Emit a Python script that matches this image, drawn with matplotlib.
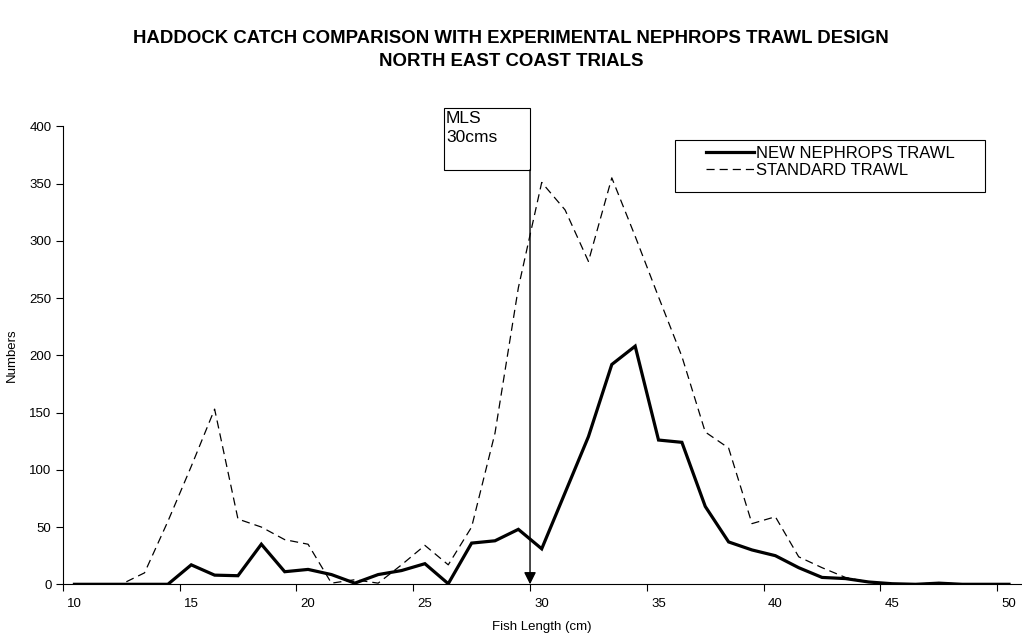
import matplotlib.pyplot as plt
from matplotlib.patches import Rectangle
from matplotlib.lines import Line2D

plt.rcParams['font.family'] = ['Liberation Sans', 'DejaVu Sans']

# fish length classes (cm)
lengths = list(range(10, 51))

# catch numbers per length class
new_trawl = [0, 0, 0, 0, 0, 17, 8, 7.5, 35, 11,
             13, 8.5, 1, 8.5, 12, 18, 0.5, 36, 38, 48,
             31, 80, 129, 192, 208, 126, 124, 68, 37, 30,
             25, 14.5, 6, 5, 2, 0.5, 0, 1, 0, 0, 0]
standard_trawl = [0, 0, 0, 10, 55, 103, 153, 57, 50, 39,
                  35, 1, 4, 1, 17, 34, 17, 50, 132, 259,
                  351, 327, 282, 355, 304, 251, 199, 133, 119, 53,
                  59, 24, 14.5, 6, 2, 0.5, 0, 1.5, 0, 0, 0]

xtick_labels = [10, 15, 20, 25, 30, 35, 40, 45, 50]
mls = 29.5  # minimum landing size marker (between 29 and 30 cm classes)

fig = plt.figure(figsize=(10.22, 6.39), dpi=100)
ax = fig.add_axes([0.0614, 0.0856, 0.9373, 0.7167])

ax.plot(lengths, new_trawl, color='black', lw=2.3, solid_joinstyle='miter')
ax.plot(lengths, standard_trawl, color='black', lw=0.9, dashes=(6.5, 4))

ax.set_xlim(9.5, 50.5)
ax.set_ylim(0, 400)
ax.set_yticks(range(0, 401, 50))

# category-style axis: tick marks between classes, labels on classes
ax.set_xticks([v - 0.5 for v in xtick_labels])
ax.set_xticklabels([])
ax.set_xticks(xtick_labels, minor=True)
ax.set_xticklabels([str(v) for v in xtick_labels], minor=True)
ax.tick_params(axis='x', which='minor', length=0, labelsize=9.5, pad=10)
ax.tick_params(axis='x', which='major', length=5, width=0.8, direction='out')
ax.tick_params(axis='y', length=5, width=0.8, labelsize=9.5, pad=3)

for s in ['top', 'right']:
    ax.spines[s].set_visible(False)
for s in ['left', 'bottom']:
    ax.spines[s].set_linewidth(0.8)

ax.set_xlabel('Fish Length (cm)', fontsize=9.5, labelpad=8)
ax.set_ylabel('Numbers', fontsize=9.5, labelpad=8)

# MLS box and arrow
ax.add_patch(Rectangle((25.82, 362), mls - 25.82, 54, facecolor='white',
                       edgecolor='black', lw=0.8, clip_on=False, zorder=3))
ax.text(25.9, 413, 'MLS\n30cms', fontsize=12.5, va='top', ha='left',
        linespacing=1.3, zorder=4, clip_on=False)
ax.annotate('', xy=(mls, 0), xytext=(mls, 362),
            arrowprops=dict(arrowstyle='-|>', color='black', lw=1,
                            mutation_scale=18, shrinkA=0, shrinkB=0),
            annotation_clip=False, zorder=4)

# legend
ax.add_patch(Rectangle((0.639, 0.8566), 0.324, 0.1134, transform=ax.transAxes,
                       facecolor='white', edgecolor='black', lw=0.8, zorder=4))
handles = [Line2D([], [], color='black', lw=2.3),
           Line2D([], [], color='black', lw=0.9, dashes=(6.5, 4))]
ax.legend(handles, ['NEW NEPHROPS TRAWL', 'STANDARD TRAWL'], loc='upper left',
          bbox_to_anchor=(0.672, 0.957), frameon=False, fontsize=12,
          borderpad=0, borderaxespad=0, handlelength=2.85, handletextpad=0.1,
          labelspacing=0.1)

fig.text(0.5, 0.9218, 'HADDOCK CATCH COMPARISON WITH EXPERIMENTAL NEPHROPS TRAWL DESIGN\n'
         'NORTH EAST COAST TRIALS', ha='center', va='center', fontsize=13.4,
         fontweight='bold', linespacing=1.5)

fig.savefig('out.png', dpi=100)
